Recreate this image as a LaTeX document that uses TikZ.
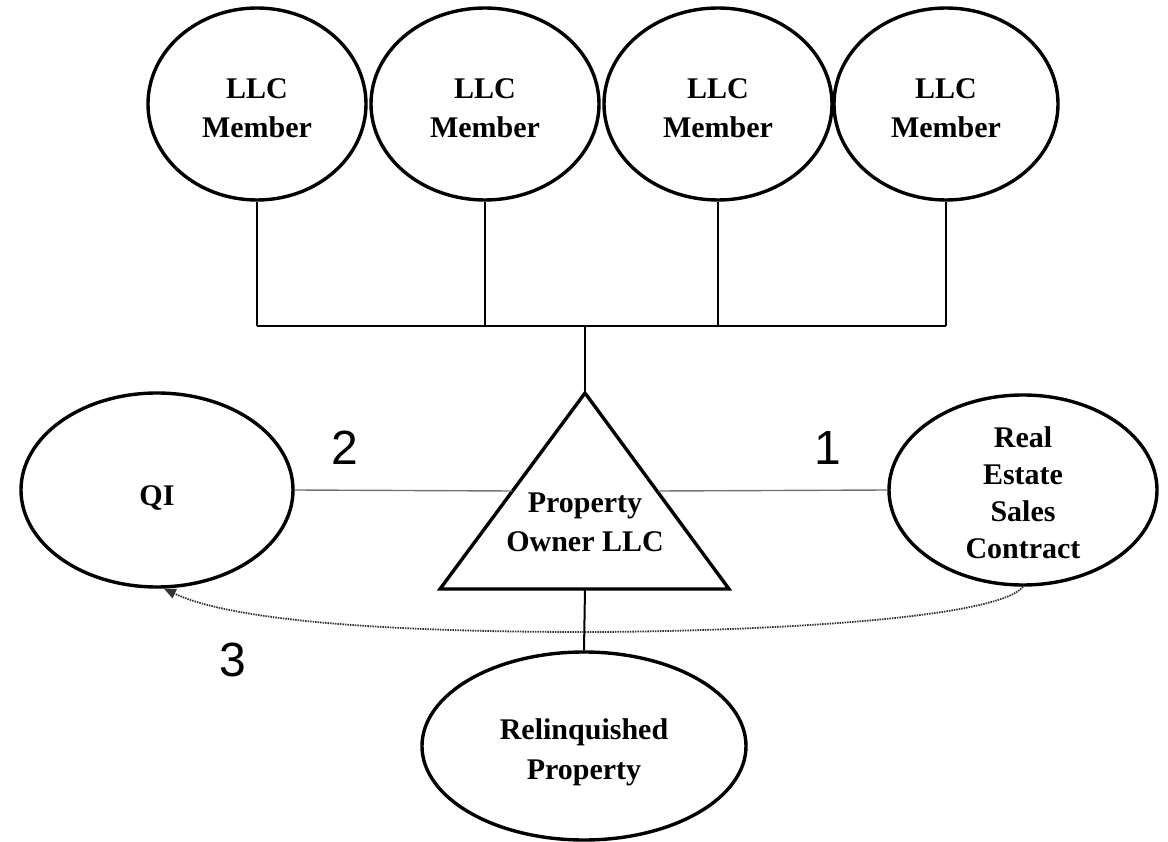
\documentclass[tikz,border=0pt]{standalone}
\usepackage{fontspec}
\setmainfont{Liberation Serif}
\newfontfamily\digitfont{Liberation Sans}
\usetikzlibrary{shapes.geometric,arrows.meta}
\begin{document}
\begin{tikzpicture}[x=1pt,y=-1pt,
  ell/.style={draw,ellipse,line width=3.4pt,inner sep=0pt},
  txt/.style={inner sep=0pt,align=center,font=\fontsize{30}{39}\selectfont\bfseries},
  conn/.style={line width=2pt},
  thinconn/.style={line width=1.4pt,black!55},
  dotconn/.style={line width=1.8pt,black!80,dash pattern=on 1.5pt off 1pt},
  numlab/.style={inner sep=0pt,font=\fontsize{48}{48}\selectfont\digitfont}
]
\useasboundingbox (0,0) rectangle (1168,842);
% top members
\node[ell,minimum width=218pt,minimum height=192pt,
  label={[txt,yshift=-4pt]center:LLC\\Member}] (m1) at (257,104) {};
\node[ell,minimum width=228pt,minimum height=192pt,
  label={[txt,yshift=-4pt]center:LLC\\Member}] (m2) at (485,104) {};
\node[ell,minimum width=228pt,minimum height=192pt,
  label={[txt,yshift=-4pt]center:LLC\\Member}] (m3) at (718,104) {};
\node[ell,minimum width=224pt,minimum height=192pt,
  label={[txt,yshift=-4pt]center:LLC\\Member}] (m4) at (946,104) {};
% bus
\coordinate (bus) at (585,326);
\coordinate (apex) at (585,393);
\coordinate (bl) at (440,589);
\coordinate (br) at (729,589);
\coordinate (tb) at (585,589);
\coordinate (tl) at (512,491);
\coordinate (tr) at (658,491);
\foreach \m in {m1,m2,m3,m4} \draw[conn] (\m.south) -- (\m.south |- bus);
\draw[conn] (m1.south |- bus) -- (m4.south |- bus);
\draw[conn] (bus) -- (apex);
% triangle
\draw[line width=3.4pt,line join=miter] (apex) -- (bl) -- (br) -- cycle;
\node[txt] (owner) at (585,522) {Property\\Owner LLC};
% side ellipses
\node[ell,minimum width=272pt,minimum height=194pt,
  label={[txt,yshift=-8pt]center:QI}] (qi) at (157,490) {};
\node[ell,minimum width=268pt,minimum height=190pt,
  label={[txt,font=\fontsize{30}{37}\selectfont\bfseries,yshift=-3pt]center:Real\\Estate\\Sales\\Contract}] (re) at (1023,490) {};
\node[ell,minimum width=324pt,minimum height=188pt,
  label={[txt,font=\fontsize{30}{40}\selectfont\bfseries,yshift=-6pt]center:Relinquished\\Property}] (rp) at (584,746) {};
% connectors
\draw[thinconn] (qi.east) -- (tl);
\draw[thinconn] (tr) -- (re.west);
\draw[conn] (tb) -- (rp.north);
\draw[dotconn,-{Triangle[length=12pt,width=10pt]}] (re.south) .. controls (995,622) and (720,632) .. (585,632) .. controls (380,632) and (230,620) .. (qi.-86);
% labels
\node[numlab] (l2) at (345,448) {2};
\node[numlab] (l1) at (828,448) {1};
\node[numlab] (l3) at (233,660) {3};
\end{tikzpicture}
\end{document}
